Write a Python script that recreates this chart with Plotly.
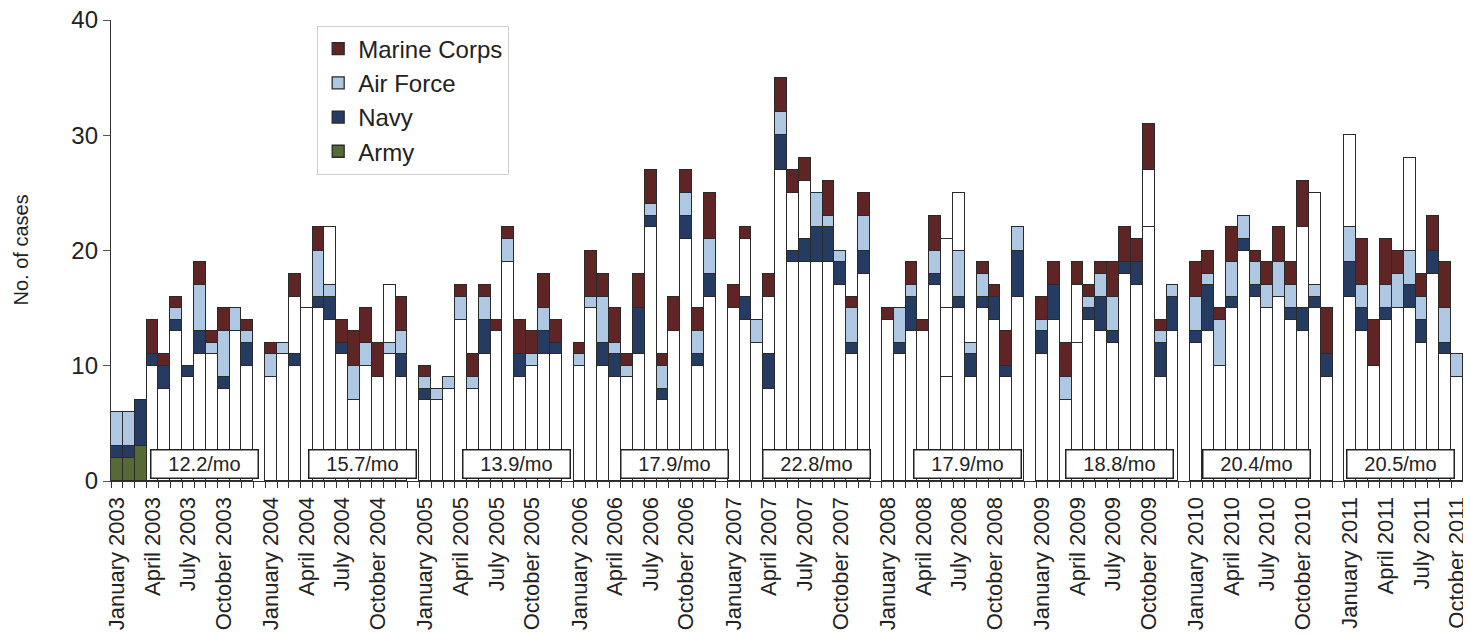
import plotly.graph_objects as go

years = [2003, 2004, 2005, 2006, 2007, 2008, 2009, 2010, 2011]
month_names = ["January", "February", "March", "April", "May", "June", "July",
               "August", "September", "October", "November", "December"]

# Values per service, Jan 2003 .. Oct 2011 (106 months)
army = [2, 2, 3, 10, 8, 13, 9, 11, 11, 8, 13, 10,
        9, 11, 10, 15, 15, 14, 11, 7, 10, 9, 11, 9,
        7, 7, 8, 14, 8, 11, 13, 19, 9, 10, 11, 11,
        10, 15, 10, 9, 9, 11, 22, 7, 13, 21, 10, 16,
        15, 14, 12, 8, 27, 19, 19, 19, 19, 17, 11, 18,
        14, 11, 13, 13, 17, 9, 15, 9, 15, 14, 9, 16,
        11, 14, 7, 12, 14, 13, 12, 18, 17, 22, 9, 13,
        12, 13, 10, 15, 20, 16, 15, 16, 14, 13, 15, 9,
        16, 13, 10, 14, 15, 15, 12, 18, 11, 9]
navy = [1, 1, 4, 1, 2, 1, 1, 2, 0, 1, 0, 2,
        0, 0, 1, 0, 1, 2, 1, 0, 0, 0, 0, 2,
        1, 0, 0, 0, 0, 3, 0, 0, 2, 0, 2, 1,
        0, 0, 2, 2, 0, 4, 1, 1, 0, 2, 1, 2,
        0, 2, 0, 3, 3, 1, 2, 3, 3, 2, 1, 2,
        0, 1, 3, 0, 1, 0, 1, 2, 1, 2, 1, 4,
        2, 3, 0, 0, 1, 3, 1, 1, 2, 0, 3, 3,
        1, 4, 0, 1, 1, 1, 0, 0, 1, 2, 1, 2,
        3, 2, 0, 1, 0, 2, 2, 2, 1, 0]
air_force = [3, 3, 0, 0, 0, 1, 0, 4, 1, 4, 2, 1,
             2, 1, 0, 0, 4, 1, 0, 3, 2, 0, 1, 2,
             1, 1, 1, 2, 1, 2, 0, 2, 0, 1, 2, 0,
             1, 1, 4, 1, 1, 0, 1, 2, 0, 2, 2, 3,
             0, 0, 2, 0, 2, 0, 0, 3, 1, 1, 3, 3,
             0, 3, 1, 0, 2, 0, 4, 1, 2, 0, 0, 2,
             1, 0, 2, 0, 1, 2, 3, 0, 0, 0, 1, 1,
             3, 1, 4, 3, 2, 2, 2, 3, 2, 0, 1, 0,
             3, 2, 0, 2, 3, 3, 2, 0, 3, 2]
other = [0, 0, 0, 0, 0, 0, 0, 0, 0, 0, 0, 0,
         0, 0, 5, 0, 0, 5, 0, 0, 0, 0, 5, 0,
         0, 0, 0, 0, 0, 0, 0, 0, 0, 0, 0, 0,
         0, 0, 0, 0, 0, 0, 0, 0, 0, 0, 0, 0,
         0, 5, 0, 5, 0, 5, 5, 0, 0, 0, 0, 0,
         0, 0, 0, 0, 0, 6, 5, 0, 0, 0, 0, 0,
         0, 0, 0, 5, 0, 0, 0, 0, 0, 5, 0, 0,
         0, 0, 0, 0, 0, 0, 0, 0, 0, 7, 8, 0,
         8, 0, 0, 0, 0, 8, 0, 0, 0, 0]
other2 = [0] * 65 + [6] + [0] * 40
marine_corps = [0, 0, 0, 3, 1, 1, 0, 2, 1, 2, 0, 1,
                1, 0, 2, 0, 2, 0, 2, 3, 3, 3, 0, 3,
                1, 0, 0, 1, 2, 1, 1, 1, 3, 2, 3, 2,
                1, 4, 2, 3, 1, 3, 3, 1, 3, 2, 2, 4,
                2, 1, 0, 2, 3, 2, 2, 0, 3, 0, 1, 2,
                1, 0, 2, 1, 3, 0, 0, 0, 1, 1, 3, 0,
                2, 2, 3, 2, 1, 1, 3, 3, 2, 4, 1, 0,
                3, 2, 1, 3, 0, 1, 2, 3, 2, 4, 0, 4,
                0, 4, 4, 4, 2, 0, 2, 3, 4, 0]

avg_text = ["12.2/mo", "15.7/mo", "13.9/mo", "17.9/mo", "22.8/mo",
            "17.9/mo", "18.8/mo", "20.4/mo", "20.5/mo"]

# ---- category positions: one blank slot between years ----
slots, labels = [], []
for yi, yr in enumerate(years):
    nmon = 10 if yr == 2011 else 12
    for m in range(nmon):
        slots.append(13 * yi + m)
        labels.append(f"{month_names[m]} {yr}")

tick_vals = [s for s, l in zip(slots, labels) if l.split()[0] in ("January", "April", "July", "October")]
tick_text = [l for l in labels if l.split()[0] in ("January", "April", "July", "October")]

avg_x = [7.4, 20.7, 33.7, 47.0, 59.0, 71.7, 84.5, 96.1, 108.2]


def nz(vals):
    return [v if v else None for v in vals]


GREEN = "#566a36"
NAVY = "#253b62"
AF = "#aec8e4"
MC = "#5f2424"
LINE = dict(color="#2a2a2a", width=1.3)

army_colors = [GREEN if i < 3 else "#ffffff" for i in range(len(army))]

fig = go.Figure()
fig.add_trace(go.Bar(x=slots, y=nz(army), name="Army",
                     marker=dict(color=army_colors, line=LINE)))
fig.add_trace(go.Bar(x=slots, y=nz(navy), name="Navy",
                     marker=dict(color=NAVY, line=LINE)))
fig.add_trace(go.Bar(x=slots, y=nz(air_force), name="Air Force",
                     marker=dict(color=AF, line=LINE)))
fig.add_trace(go.Bar(x=slots, y=nz(other), name="Other", showlegend=False,
                     marker=dict(color="#ffffff", line=LINE)))
fig.add_trace(go.Bar(x=slots, y=nz(other2), name="Other 2", showlegend=False,
                     marker=dict(color="#ffffff", line=LINE)))
fig.add_trace(go.Bar(x=slots, y=nz(marine_corps), name="Marine Corps",
                     marker=dict(color=MC, line=LINE)))

for xa, t in zip(avg_x, avg_text):
    fig.add_annotation(x=xa, y=1.5, xref="x", yref="y", text=t, showarrow=False,
                       font=dict(size=20, color="#222"),
                       bgcolor="#ffffff", bordercolor="#222", borderwidth=1.5,
                       borderpad=3, width=100, height=21)

# y-axis title
fig.add_annotation(x=0, y=0.5, xref="paper", yref="paper", xanchor="center",
                   yanchor="middle", xshift=-91, textangle=-90, showarrow=False,
                   text="No. of cases", font=dict(size=20, color="#222"))

FONT = "Liberation Sans, Arial, sans-serif"
# page body has an 8px margin, so the figure is sized/margined to compensate
fig.update_layout(
    width=1463, height=627,
    barmode="stack", bargap=0,
    plot_bgcolor="#ffffff", paper_bgcolor="#ffffff",
    margin=dict(l=103, r=8, t=12, b=154),
    font=dict(family=FONT, color="#222"),
    showlegend=True,
    legend=dict(x=0.1525, y=0.988, xanchor="left", yanchor="top",
                traceorder="reversed", font=dict(size=24, color="#222"),
                bordercolor="#cfcfcf", borderwidth=1, bgcolor="#ffffff",
                itemwidth=30),
    xaxis=dict(range=[-0.5, 113.5], tickmode="array", tickvals=tick_vals,
               ticktext=tick_text, tickangle=-90, tickfont=dict(size=22, color="#222"),
               ticks="outside", ticklen=6, tickcolor="rgba(0,0,0,0)",
               showline=True, linecolor="#333", linewidth=1.3, showgrid=False,
               zeroline=False, automargin=False, ticklabeloverflow="allow",
               minor=dict(tick0=0.5, dtick=1, ticks="outside", ticklen=6,
                          tickcolor="#333", tickwidth=1, showgrid=False)),
    yaxis=dict(range=[0, 40], tickvals=[0, 10, 20, 30, 40], ticks="outside",
               ticklen=7, tickcolor="#555", showline=True, linecolor="#333",
               linewidth=1.3, showgrid=False, zeroline=False, automargin=False,
               ticklabeloverflow="allow",
               tickfont=dict(size=24, color="#222")),
)

fig.write_html("out.html")
